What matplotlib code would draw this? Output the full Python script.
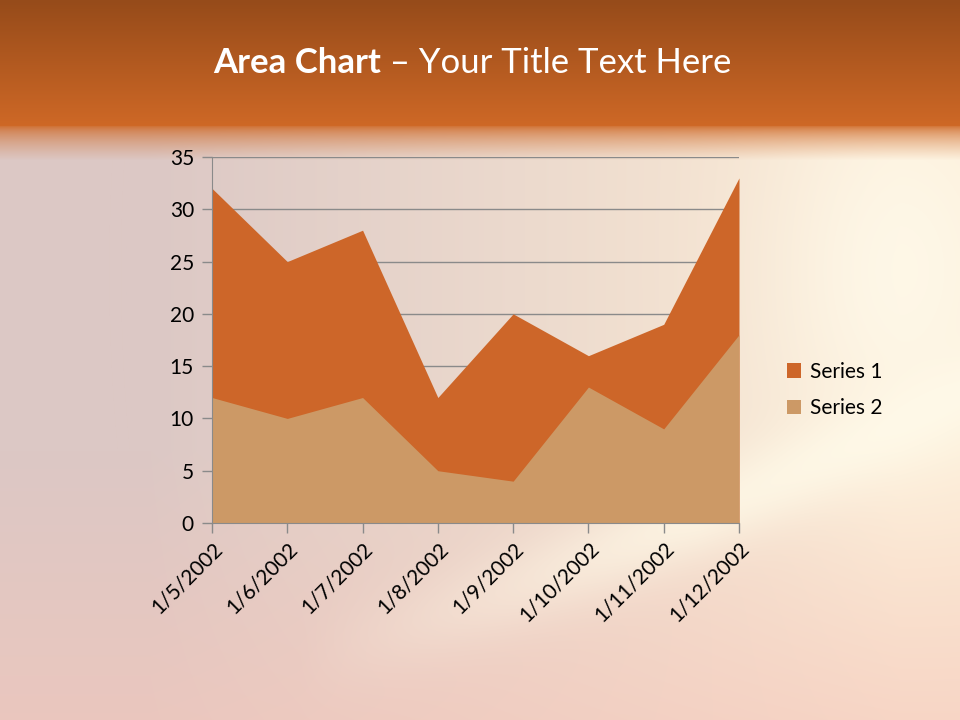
import matplotlib.pyplot as plt
import numpy as np

# data
dates = ['1/5/2002', '1/6/2002', '1/7/2002', '1/8/2002',
         '1/9/2002', '1/10/2002', '1/11/2002', '1/12/2002']
series1 = [32, 25, 28, 12, 20, 16, 19, 33]
series2 = [12, 10, 12, 5, 4, 13, 9, 18]
names = ['Series 1', 'Series 2']
colors = ['#cd6629', '#cc9966']
yticks = [0, 5, 10, 15, 20, 25, 30, 35]

plt.rcParams['font.family'] = ['Lato', 'DejaVu Sans']

W, H = 960, 720


# slide background: orange header band and a soft pink/cream body
def make_background():
    yy, xx = np.mgrid[0:H, 0:W].astype(float)

    # body: pinkish grey on the left, cream on the right
    tx = np.clip((xx - 150) / 750.0, 0, 1)[..., None]
    left = np.array([220, 200, 197])
    right = np.array([252, 236, 214])
    body = left * (1 - tx) + right * tx
    # bottom gets pinker
    ty = np.clip((yy - 450) / 270.0, 0, 1)[..., None]
    body = body * (1 - 0.6 * ty) + np.array([244, 198, 186]) * 0.6 * ty
    # bright curved streak sweeping up to the right
    curve = 660 - 0.32 * (xx - 300) - 0.00012 * (xx - 300) ** 2
    d = (yy - curve) / 45.0
    streak = np.exp(-d ** 2)[..., None] * np.clip((xx - 300) / 400, 0, 1)[..., None]
    body = body * (1 - 0.75 * streak) + np.array([255, 250, 232]) * 0.75 * streak
    # glow at the right edge
    glow = np.exp(-(((xx - 900) / 130) ** 2 + ((yy - 270) / 200) ** 2))[..., None]
    body = body * (1 - 0.7 * glow) + np.array([255, 252, 238]) * 0.7 * glow

    # header gradient
    th = np.clip(yy / 125.0, 0, 1)[..., None]
    header = np.array([150, 75, 26]) * (1 - th) + np.array([206, 104, 38]) * th

    # blend header into body between 125 and 160
    tb = np.clip((yy - 125) / 35.0, 0, 1)[..., None] ** 0.6
    img = header * (1 - tb) + body * tb
    return np.clip(img, 0, 255).astype(np.uint8)


fig = plt.figure(figsize=(9.6, 7.2), dpi=100)
bg = fig.add_axes([0, 0, 1, 1])
bg.imshow(make_background(), aspect='auto', extent=[0, 1, 0, 1])
bg.axis('off')

# title: bold part + regular part, centred together
t1 = fig.text(0, 0.913, 'Area Chart', color='white', fontsize=25, fontweight='bold',
              ha='left', va='center')
t2 = fig.text(0, 0.913, ' \u2013 Your Title Text Here', color='white', fontsize=25,
              ha='left', va='center')
fig.canvas.draw()
r = fig.canvas.get_renderer()
w1 = t1.get_window_extent(r).width / W
w2 = t2.get_window_extent(r).width / W
x0 = 472 / W - (w1 + w2) / 2
t1.set_x(x0)
t2.set_x(x0 + w1)

# chart
ax = fig.add_axes([212 / W, 1 - 523 / H, (739 - 212) / W, (523 - 157) / H])
ax.patch.set_alpha(0)
x = np.arange(len(dates))
ax.fill_between(x, series1, color=colors[0], label=names[0], zorder=2, linewidth=0)
ax.fill_between(x, series2, color=colors[1], label=names[1], zorder=3, linewidth=0)

ax.set_xlim(0, len(dates) - 1)
ax.set_ylim(0, 35)
ax.set_yticks(yticks)
ax.set_xticks(x)
ax.set_xticklabels(dates, rotation=45, ha='right', rotation_mode='anchor')
ax.yaxis.grid(True, color='#8a8a8a', linewidth=1)
ax.set_axisbelow(True)
for s in ['top', 'right']:
    ax.spines[s].set_visible(False)
for s in ['left', 'bottom']:
    ax.spines[s].set_color('#8a8a8a')
    ax.spines[s].set_zorder(4)
ax.tick_params(axis='both', colors='#8a8a8a', labelcolor='black', labelsize=15,
               length=7, width=1)
ax.tick_params(axis='y', pad=6)
ax.tick_params(axis='x', pad=4)

fig.legend(loc='center left', bbox_to_anchor=(768 / W, 1 - 390 / H), frameon=False,
           fontsize=15, handlelength=0.7, handleheight=0.7, handletextpad=0.4,
           labelspacing=0.8)

fig.savefig('out.png', dpi=100)
